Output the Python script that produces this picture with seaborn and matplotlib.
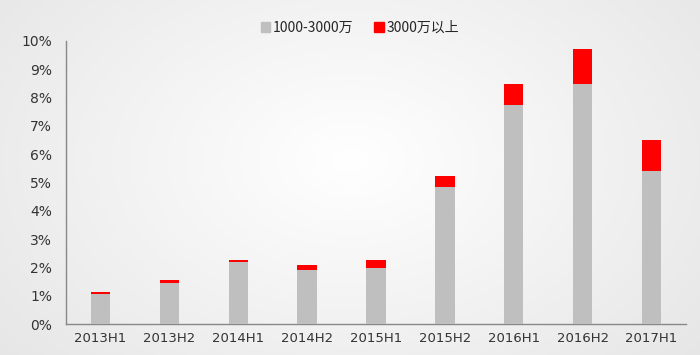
import numpy as np
import pandas as pd
import matplotlib
matplotlib.use("Agg")
import matplotlib.pyplot as plt
from matplotlib.patches import Patch
import seaborn as sns

categories = ["2013H1", "2013H2", "2014H1", "2014H2", "2015H1",
              "2015H2", "2016H1", "2016H2", "2017H1"]
mid_values = [1.07, 1.44, 2.19, 1.92, 1.98, 4.85, 7.75, 8.48, 5.42]   # 1000-3000万
high_values = [0.05, 0.11, 0.07, 0.15, 0.27, 0.38, 0.73, 1.24, 1.08]  # 3000万以上
series_names = ["1000-3000万", "3000万以上"]
y_ticks = [0, 1, 2, 3, 4, 5, 6, 7, 8, 9, 10]

sns.set_style("white")
plt.rcParams['font.family'] = ['DejaVu Sans', 'Noto Sans CJK SC']

df = pd.DataFrame({"cat": categories, "mid": mid_values, "high": high_values})
df["total"] = df["mid"] + df["high"]

fig = plt.figure(figsize=(7, 3.55), dpi=100)
# subtle background gradient (white centre, light gray edges)
h, w = 355, 700
yy, xx = np.mgrid[0:h, 0:w]
r = np.sqrt(((xx - w * 0.5) / (w * 0.6)) ** 2 + ((yy - h * 0.45) / (h * 0.8)) ** 2)
val = 1.0 - 0.09 * np.clip(r, 0, 1.2)
bg = np.dstack([val, val, val])
fig.figimage(bg, xo=0, yo=0, origin='upper', zorder=-10)
fig.patch.set_alpha(0)

ax = fig.add_axes([66 / 700, 31 / 355, 620 / 700, 283 / 355])
ax.patch.set_alpha(0)

sns.barplot(data=df, x="cat", y="total", color="#ff0000", width=0.28,
            saturation=1, linewidth=0, edgecolor="none", ax=ax, zorder=2)
sns.barplot(data=df, x="cat", y="mid", color="#bfbfbf", width=0.28,
            saturation=1, linewidth=0, edgecolor="none", ax=ax, zorder=3)

ax.set_xlim(-0.5, len(categories) - 0.5)
ax.set_ylim(0, 10)
ax.set_yticks(y_ticks)
ax.set_yticklabels([f"{t}%" for t in y_ticks])
ax.set_xticks(range(len(categories)))
ax.set_xticklabels(categories)
ax.set_xticks(np.arange(-0.5, len(categories)), minor=True)
ax.tick_params(axis='x', which='major', length=0, pad=6, labelsize=9.5, colors='#333333')
ax.tick_params(axis='x', which='minor', length=4, direction='in', color='#888888', width=1)
ax.tick_params(axis='y', length=4, direction='in', color='#888888', width=1,
               pad=10, labelsize=10, colors='#333333')
ax.set_xlabel("")
ax.set_ylabel("")
for s in ["top", "right"]:
    ax.spines[s].set_visible(False)
for s in ["left", "bottom"]:
    ax.spines[s].set_color("#888888")
    ax.spines[s].set_linewidth(1)

handles = [Patch(color="#bfbfbf", label=series_names[0]),
           Patch(color="#ff0000", label=series_names[1])]
fig.legend(handles=handles, loc="center", bbox_to_anchor=(360 / 700, 1 - 28 / 355),
           ncol=2, frameon=False, handlelength=0.7, handleheight=0.7,
           handletextpad=0.2, columnspacing=1.5,
           prop={'family': ['Noto Sans CJK SC', 'DejaVu Sans'], 'size': 10})

fig.savefig("out.png", dpi=100)
